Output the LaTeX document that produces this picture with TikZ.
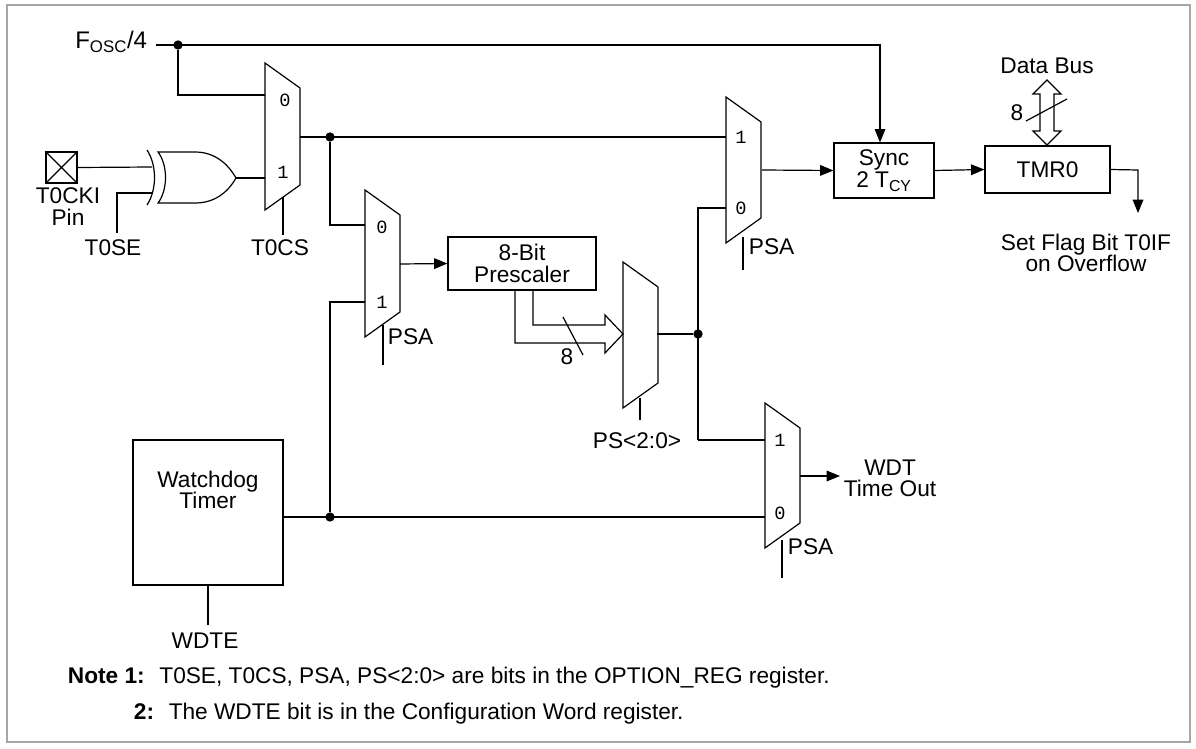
\documentclass[tikz,border=0pt]{standalone}
\usepackage{fontspec}
\setmainfont{Liberation Sans}
\setmonofont{Liberation Mono}
\usetikzlibrary{arrows.meta}
\begin{document}
\begin{tikzpicture}[x=0.75pt,y=-0.75pt,line width=0.9pt,
  every node/.style={font=\fontsize{17}{16}\selectfont,inner sep=1pt},
  box/.style={draw,rectangle,inner sep=0pt,align=center},
  lbl/.style={align=center},
  dig/.style={font=\fontsize{14}{14}\ttfamily},
  arr/.style={-{Triangle[length=10pt,width=8pt]}},
  dot/.style={circle,fill,inner sep=0pt,minimum size=7pt}]
\useasboundingbox (0,0) rectangle (1196,749);
\draw[gray!70,line width=1pt] (7,5) rectangle (1190,742);
% muxes
\newcommand{\mux}[4]{\draw (#1,#2) -- (#1+35,#2+25) -- (#1+35,#2+#3-25) -- (#1,#2+#3) -- cycle;}
\mux{265}{63}{147}{}
\mux{365}{190}{147}{}
\mux{623}{262}{146}{}
\mux{726}{97}{146}{}
\mux{765}{403}{145}{}
\node[dig] at (285,100) {0}; \node[dig] at (283,172) {1};
\node[dig] at (382,227) {0}; \node[dig] at (382,302) {1};
\node[dig] at (741,137) {1}; \node[dig] at (741,208) {0};
\node[dig] at (780,440) {1}; \node[dig] at (780,513) {0};
% fosc
\node[anchor=east,font=\fontsize{18}{18}\selectfont] (fosc) at (149,42) {F\textsubscript{OSC}/4};
\coordinate (f0) at (156,45);
\node[dot] (d1) at (178,45) {};
\node[box,minimum width=100pt*0.75,minimum height=55pt*0.75] (sync) at (884,170.5) {Sync\\[1pt]2 T\textsubscript{CY}};
\draw[arr] (f0) -- (880,45) -- (sync.north -| 880,0);
\draw (d1) -- (178,95) -- (265,95);
% pin
\node[draw,minimum size=31pt*0.75,inner sep=0pt] (pin) at (61.5,167.5) {};
\draw (pin.north west) -- (pin.south east) (pin.north east) -- (pin.south west);
\node[lbl,anchor=north] at (68,186) {T0CKI\\Pin};
\draw (pin.east) -- (152,167);
% xor gate
\draw (147,150) .. controls (157,165) and (157,190) .. (147,205);
\draw (158,152) .. controls (168,165) and (168,190) .. (158,203)
  -- (195,203) .. controls (215,203) and (228,192) .. (236,178)
  .. controls (228,164) and (215,152) .. (195,152) -- cycle;
\coordinate (xo) at (236,178);
\draw (xo) -- (265,178);
\draw (117,233) -- (117,193) -- (153,193);
\node at (113,248) {T0SE};
\draw (283,197) -- (283,235); \node at (280,248) {T0CS};
% mux1 output
\node[dot] (d2) at (330,137) {};
\draw (300,137) -- (726,137);
\draw (d2) -- (330,225) -- (365,225);
% prescaler
\node[box,minimum width=148pt*0.75,minimum height=53pt*0.75] (pre) at (522,263.5) {8-Bit\\Prescaler};
\draw[arr] (400,264) -- (pre.west);
\draw (383,325) -- (383,365); \node[anchor=west] at (386,337) {PSA};
% bus
\draw (515,290) -- (515,343) -- (605,343) -- (605,353) -- (623,334) -- (605,315) -- (605,325) -- (533,325) -- (533,290);
\draw (563,317) -- (583,355); \node at (567,357) {8};
\draw (640,398) -- (640,420); \node at (637,441) {PS<2:0>};
% mux4 out
\node[dot] (d3) at (698,334) {};
\draw (657,334) -- (d3);
\draw (698,440) -- (698,208) -- (726,208);
\draw (698,440) -- (765,440);
% mux3
\draw[arr] (762,170) -- (sync.west);
\draw (743,237) -- (743,270); \node[anchor=west] at (747,247) {PSA};
\node[box,minimum width=125pt*0.75,minimum height=47pt*0.75] (tmr) at (1047.5,169.5) {TMR0};
\draw[arr] (sync.east) -- (tmr.west);
\coordinate (fl) at (1138,213);
\draw[arr] (tmr.east) -- (1138,170) -- (fl);
\node[lbl,anchor=north] at (1086,232) {Set Flag Bit T0IF\\on Overflow};
% data bus
\draw (1047,80) -- (1061,94) -- (1054,94) -- (1054,131) -- (1061,131) -- (1047,145) -- (1033,131) -- (1040,131) -- (1040,94) -- (1033,94) -- cycle;
\draw (1026,121) -- (1067,99);
\node at (1017,113) {8};
\node at (1047,66) {Data Bus};
% mux5
\draw[arr] (800,476) -- (840,476);
\node[lbl,anchor=west] at (842,478) {WDT\\Time Out};
\draw (782,540) -- (782,578); \node[anchor=west] at (786,547) {PSA};
% watchdog
\node[box,minimum width=150pt*0.75,minimum height=145pt*0.75] (wdt) at (208,512.5) {};
\node[lbl] at (208,490) {Watchdog\\Timer};
\draw (208,585) -- (208,625); \node at (205,641) {WDTE};
\node[dot] (d4) at (330,517) {};
\draw (283,517) -- (765,517);
\draw (d4) -- (330,302) -- (365,302);
% notes
\node[anchor=west] at (66,678) {\textbf{Note 1:}\hspace{11pt}T0SE, T0CS, PSA, PS<2:0> are bits in the OPTION\_REG register.};
\node[anchor=west] at (132,714) {\textbf{2:}\hspace{11pt}The WDTE bit is in the Configuration Word register.};
\end{tikzpicture}
\end{document}
